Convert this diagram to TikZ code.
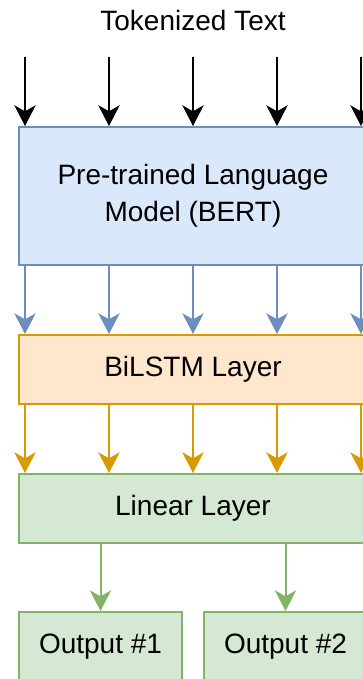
\documentclass[tikz,border=0pt]{standalone}
\usepackage{fontspec}
\setmainfont{Liberation Sans}
\usetikzlibrary{arrows.meta,calc}
\definecolor{bertfill}{HTML}{DAE8FC}
\definecolor{bertline}{HTML}{6C8EBF}
\definecolor{lstmfill}{HTML}{FFE6CC}
\definecolor{lstmline}{HTML}{D79B00}
\definecolor{linfill}{HTML}{D5E8D4}
\definecolor{linline}{HTML}{82B366}
\tikzset{
  layer/.style={rectangle, line width=1.5pt, minimum width=261pt, inner sep=0pt, align=center, font=\fontsize{21}{28}\selectfont},
  bertbox/.style={layer, draw=bertline, fill=bertfill, minimum height=103.5pt},
  lstmbox/.style={layer, draw=lstmline, fill=lstmfill, minimum height=51.75pt},
  linbox/.style={layer, draw=linline, fill=linfill, minimum height=51.75pt},
  outbox/.style={layer, draw=linline, fill=linfill, minimum width=122.25pt, minimum height=51.75pt},
  flow/.style={-{Stealth[length=15.5pt, width=16pt, inset=4.5pt]}, line width=1.5pt},
  tokarrow/.style={flow, draw=black},
  bertarrow/.style={flow, draw=bertline, fill=bertline},
  lstmarrow/.style={flow, draw=lstmline, fill=lstmline},
  linarrow/.style={flow, draw=linline, fill=linline},
  caption/.style={font=\fontsize{21}{28}\selectfont}
}

\begin{document}
\begin{tikzpicture}[x=0.75pt, y=0.75pt]
  \useasboundingbox (0,0) rectangle (362,679);

  % stack of layers
  \node[caption] (tok) at (193,659) {Tokenized Text};
  \node[bertbox] (bert) at (193,483) {Pre-trained Language\\Model (BERT)};
  \node[lstmbox] (lstm) at (193,309.5) {BiLSTM Layer};
  \node[linbox] (lin) at (193,170.5) {Linear Layer};
  \node[outbox] (out1) at (100.5,32.5) {Output \#1};
  \node[outbox] (out2) at (285.5,32.5) {Output \#2};

  % token streams between layers
  \foreach \f in {0.02,0.26,0.5,0.74,0.98} {
    \coordinate (b) at ($(bert.north west)!\f!(bert.north east)$);
    \draw[tokarrow] ($(b)+(0,69)$) -- (b);
    \draw[bertarrow] ($(bert.south west)!\f!(bert.south east)$) -- ($(lstm.north west)!\f!(lstm.north east)$);
    \draw[lstmarrow] ($(lstm.south west)!\f!(lstm.south east)$) -- ($(lin.north west)!\f!(lin.north east)$);
  }

  % two heads
  \draw[linarrow] (lin.south -| out1) -- (out1);
  \draw[linarrow] (lin.south -| out2) -- (out2);
\end{tikzpicture}
\end{document}
